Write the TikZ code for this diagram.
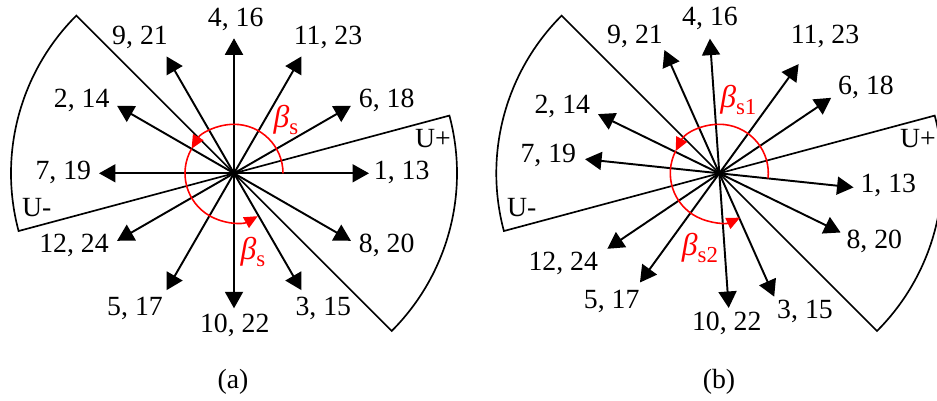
\documentclass[tikz,border=0pt]{standalone}
\usepackage{fontspec}
\setmainfont{Liberation Serif}
\definecolor{swingred}{RGB}{255, 0, 0}
\usetikzlibrary{arrows.meta, positioning, calc}
\tikzset{
	vec/.style={-{Triangle[length=0.33cm, width=0.36cm]}, line width=1.1pt, draw=black},
	sector/.style={line width=0.95pt, draw=black, line join=miter},
	swing/.style={-{Triangle[length=0.27cm, width=0.24cm]}, line width=0.9pt, draw=swingred},
	lbl/.style={font=\fontsize{15.8}{18}\selectfont, inner sep=0pt},
	betalbl/.style={font=\fontsize{18}{20}\selectfont, text=swingred, inner sep=0pt},
}
\newcommand{\betasub}[1]{\textit{β}\raisebox{-0.22em}{\fontsize{13}{14}\selectfont #1}}

\begin{document}
\begin{tikzpicture}[x=0.02cm, y=0.02cm]
		\clip (0,0) rectangle (937,400);
		\coordinate (oa) at (234,226.7);
		\coordinate (ob) at (719.3,226.7);
		% sectors
		\draw[sector] (oa) -- ++(15:223) arc (15:-45:223) -- cycle;
		\draw[sector] (oa) -- ++(135:223) arc (135:195:223) -- cycle;
		\draw[sector] (ob) -- ++(15:223) arc (15:-45:223) -- cycle;
		\draw[sector] (ob) -- ++(135:223) arc (135:195:223) -- cycle;
		% (a)
		\foreach \n/\ang/\dx/\dy/\txt in {1/0/167.7/1.3/{1, 13}, 6/30/152.7/73.3/{6, 18}, 11/60/94/136.3/{11, 23}, 4/90/1.7/154.3/{4, 16}, 9/120/-94/136.3/{9, 21}, 2/150/-152.3/73.3/{2, 14}, 7/180/-170.7/1.3/{7, 19}, 12/210/-160/-71.7/{12, 24}, 5/240/-99/-134.7/{5, 17}, 10/270/0.7/-151.7/{10, 22}, 3/300/89.3/-134.7/{3, 15}, 8/330/152.7/-71.7/{8, 20}}{
			\coordinate (a\n) at ($(oa)+(\ang:135)$);
			\draw[vec] (oa) -- (a\n);
			\node[lbl] (la\n) at ($(oa)+(\dx,\dy)$) {\txt};
		}
		% (b)
		\foreach \n/\ang/\dx/\dy/\txt in {1/354/169/-11.7/{1, 13}, 6/34/146.7/86/{6, 18}, 11/54/105.7/136.6/{11, 23}, 4/94/-9.3/155/{4, 16}, 9/114/-84.3/136.6/{9, 21}, 2/154/-157/67.3/{2, 14}, 7/174/-171/18.3/{7, 19}, 12/214/-156/-90/{12, 24}, 5/234/-107.6/-128.4/{5, 17}, 10/274/7.4/-150/{10, 22}, 3/294/85.7/-138.4/{3, 15}, 8/334/155/-68.4/{8, 20}}{
			\coordinate (b\n) at ($(ob)+(\ang:135)$);
			\draw[vec] (ob) -- (b\n);
			\node[lbl] (lb\n) at ($(ob)+(\dx,\dy)$) {\txt};
		}
		% switching arcs
		\draw[swing] ($(oa)+(0:49)$) arc (0:150:49);
		\draw[swing] ($(oa)+(150:49)$) arc (150:299:49);
		\draw[swing] ($(ob)+(-6:49)$) arc (-6:153:49);
		\draw[swing] ($(ob)+(153:49)$) arc (153:295:49);
		\node[betalbl] (betaa1) at ($(oa)+(52,53.3)$) {\betasub{s}};
		\node[betalbl] (betaa2) at ($(oa)+(19,-78.7)$) {\betasub{s}};
		\node[betalbl] (betab1) at ($(ob)+(19,73.3)$) {\betasub{s1}};
		\node[betalbl] (betab2) at ($(ob)+(-19.3,-75)$) {\betasub{s2}};
		\node[lbl] (upa) at ($(oa)+(199,34.3)$) {U+};
		\node[lbl] (una) at ($(oa)+(-197.3,-34.6)$) {U-};
		\node[lbl] (upb) at ($(ob)+(198.7,34.3)$) {U+};
		\node[lbl] (unb) at ($(ob)+(-197.6,-34.6)$) {U-};
		\node[lbl] (capa) at (233,18) {(a)};
		\node[lbl] (capb) at (719,18) {(b)};
	\end{tikzpicture}
\end{document}
